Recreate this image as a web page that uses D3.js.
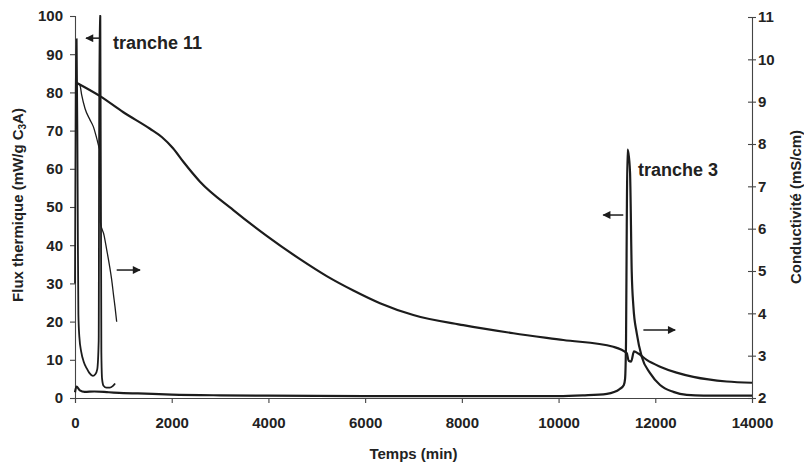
<!DOCTYPE html>
<html>
<head>
<meta charset="utf-8">
<script src="https://cdn.jsdelivr.net/npm/d3@7"></script>
<style>
  body { margin: 0; background: #fff; }
  text { font-family: "Liberation Sans", Arial, sans-serif; font-weight: bold; fill: #222; }
</style>
</head>
<body>
<div id="chart"></div>
<script>
// time in min, flux in mW/g C3A (left axis), conductivity in mS/cm (right axis)

// tranche 11 - heat flux
const t11FluxTime = [0, 15, 35, 50, 60, 70, 90, 130, 180, 240, 300, 370, 420, 460, 490, 505, 525, 545, 560, 590, 650, 720, 780, 830];
const t11Flux     = [30, 80, 94, 70, 40, 22, 16, 12, 9.5, 7.8, 6.5, 5.8, 6.2, 7.5, 15, 100, 100, 12, 5, 3.2, 2.7, 2.7, 3.1, 3.8];

// tranche 11 - conductivity
const t11CondTime = [80, 103, 138, 207, 310, 379, 448, 503, 517, 525, 600, 656, 710, 759, 800, 827, 862];
const t11Cond     = [9.42, 9.39, 9.16, 8.84, 8.57, 8.41, 8.14, 7.90, 7.86, 6.15, 5.85, 5.5, 5.15, 4.79, 4.4, 4.16, 3.8];

// tranche 3 - heat flux
const t3FluxTime = [0, 30, 100, 200, 400, 700, 1000, 1300, 2000, 3000, 4000, 6000, 8000, 10000, 10500, 11000, 11270, 11350, 11375, 11395, 11410, 11425, 11445, 11478, 11513, 11547, 11616, 11720, 11892, 12099, 12374, 12650, 13000, 14000];
const t3Flux     = [1.5, 3.0, 2.0, 1.6, 1.7, 1.5, 1.3, 1.2, 0.9, 0.7, 0.6, 0.5, 0.5, 0.5, 0.7, 1.1, 2.4, 3.4, 5, 15, 45, 65, 64, 59, 33, 24, 17, 10.8, 6.5, 3.4, 1.6, 0.8, 0.6, 0.6];

// tranche 3 - conductivity
const t3CondTime = [40, 517, 1000, 1551, 1800, 2027, 2240, 2585, 3274, 3964, 4653, 5205, 5756, 6307, 6996, 8030, 9064, 10098, 11132, 11409, 11450, 11500, 11560, 11650, 11823, 12099, 12440, 12787, 13477, 14000];
const t3Cond     = [9.44, 9.13, 8.75, 8.36, 8.16, 7.90, 7.58, 7.11, 6.44, 5.83, 5.28, 4.88, 4.54, 4.24, 3.96, 3.72, 3.53, 3.37, 3.21, 3.06, 2.88, 2.86, 3.10, 3.05, 2.90, 2.74, 2.60, 2.50, 2.39, 2.36];

// ticks
const xTicks = [0, 2000, 4000, 6000, 8000, 10000, 12000, 14000];
const fluxTicks = [0, 10, 20, 30, 40, 50, 60, 70, 80, 90, 100];
const condTicks = [2, 3, 4, 5, 6, 7, 8, 9, 10, 11];

// annotations (data units): arrows [t1, t2, value on flux axis], labels
const arrowStart = [[517, 228, 94.2], [862, 1344, 33.5], [11338, 10924, 47.9], [11754, 12410, 17.8]];
const labelText = ["tranche 11", "tranche 3"];
const labelTime = [786, 11643];
const labelFlux = [91.4, 58];

(function(){
	let svgWidth = 804;
	let svgHeight = 464;
	let margin = { top: 16, right: 52, bottom: 66, left: 75 };
	let width = svgWidth - margin.left - margin.right;
	let height = svgHeight - margin.top - margin.bottom;

	let svg = d3.select("#chart").append("svg").attr("width", svgWidth).attr("height", svgHeight);
	let g = svg.append("g").attr("transform", `translate(${margin.left}, ${margin.top})`);

	let x = d3.scaleLinear().domain([0, 14000]).range([0, width]);
	let yL = d3.scaleLinear().domain([0, 100]).range([height, 0]);
	let yR = d3.scaleLinear().domain([2, 11]).range([height, 1]);

	// axes
	let xAxis = g.append("g").attr("transform", `translate(0, ${height})`)
		.call(d3.axisBottom(x).tickValues(xTicks).tickFormat(d3.format("d")).tickSizeOuter(0).tickSize(5).tickPadding(14));
	let lAxis = g.append("g")
		.call(d3.axisLeft(yL).tickValues(fluxTicks).tickSizeOuter(0).tickSize(5).tickPadding(7));
	let rAxis = g.append("g").attr("transform", `translate(${width}, 0)`)
		.call(d3.axisRight(yR).tickValues(condTicks).tickSizeOuter(0).tickSize(4).tickPadding(2));
	rAxis.selectAll(".tick line").attr("x1", -4);

	[xAxis, lAxis, rAxis].forEach(a => {
		a.selectAll("path, line").attr("stroke", "#444").attr("stroke-width", 1.1);
		a.selectAll("text").style("font-size", "15px").attr("fill", "#222");
	});

	// axis titles
	g.append("text")
		.attr("x", width / 2).attr("y", height + 61)
		.attr("text-anchor", "middle").style("font-size", "15px")
		.text("Temps (min)");

	let yt = g.append("text")
		.attr("transform", `translate(${-52}, ${height / 2 - 2}) rotate(-90)`)
		.attr("text-anchor", "middle").style("font-size", "15px");
	yt.append("tspan").text("Flux thermique (mW/g C");
	yt.append("tspan").attr("dy", 3).style("font-size", "10px").text("3");
	yt.append("tspan").attr("dy", -3).text("A)");

	g.append("text")
		.attr("transform", `translate(${width + 49}, ${height / 2}) rotate(-90)`)
		.attr("text-anchor", "middle").style("font-size", "15px")
		.text("Conductivité (mS/cm)");

	// curves
	function drawLine(times, values, yScale, w) {
		let pts = times.map((t, i) => [x(t), yScale(values[i])]);
		g.append("path")
			.attr("d", d3.line().curve(d3.curveMonotoneX)(pts))
			.attr("fill", "none")
			.attr("stroke", "#1c1c1c")
			.attr("stroke-width", w)
			.attr("stroke-linejoin", "round");
	}
	drawLine(t3CondTime, t3Cond, yR, 2.2);
	drawLine(t3FluxTime, t3Flux, yL, 2.2);
	drawLine(t11FluxTime, t11Flux, yL, 1.8);
	drawLine(t11CondTime, t11Cond, yR, 1.3);

	// arrows
	let defs = svg.append("defs");
	defs.append("marker").attr("id", "head")
		.attr("viewBox", "0 0 10 10").attr("refX", 9).attr("refY", 5)
		.attr("markerWidth", 9).attr("markerHeight", 8).attr("markerUnits", "userSpaceOnUse")
		.attr("orient", "auto")
		.append("path").attr("d", "M0,0L10,5L0,10Z").attr("fill", "#1c1c1c");

	arrowStart.forEach(a => {
		g.append("line")
			.attr("x1", x(a[0])).attr("x2", x(a[1]))
			.attr("y1", yL(a[2])).attr("y2", yL(a[2]))
			.attr("stroke", "#1c1c1c").attr("stroke-width", 1.5)
			.attr("marker-end", "url(#head)");
	});

	labelText.forEach((s, i) => {
		g.append("text")
			.attr("x", x(labelTime[i])).attr("y", yL(labelFlux[i]))
			.style("font-size", "18px")
			.text(s);
	});
})();
</script>
</body>
</html>
